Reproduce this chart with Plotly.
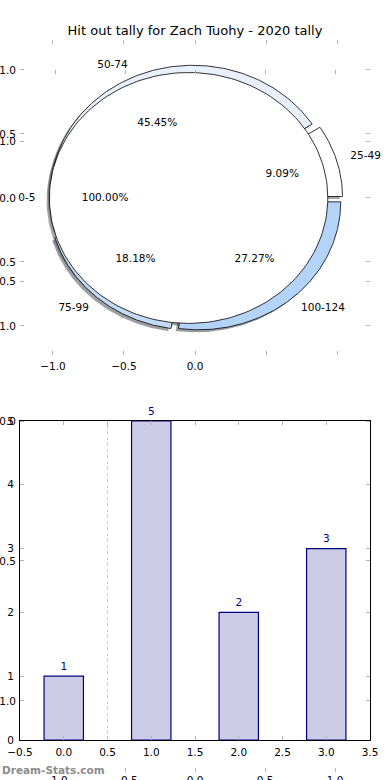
import numpy as np
import plotly.graph_objects as go

# ---------------- data ----------------
title_text = "Hit out tally for Zach Tuohy - 2020 tally"
ranges = ["25-49", "50-74", "75-99", "100-124"]
counts = [1, 5, 2, 3]
inner_labels = ["0-5"]
inner_counts = [11]
slice_colors = ["#ffffff", "#e8f0fb", "#c4dbf5", "#b4d3f8"]
inner_colors = ["#ffffff"]
bar_x = [0, 1, 2, 3]
bar_vals = [1, 5, 2, 3]
pie_ticks = [-1.0, -0.5, 0.0, 0.5, 1.0]
pie_xticktext = ["−1.0", "−0.5", "0.0", "", ""]
pie_yticktext = ["−1.0", "−0.5", "0.0", "0.5", "1.0"]
bar_xticks = [-0.5, 0.0, 0.5, 1.0, 1.5, 2.0, 2.5, 3.0, 3.5]
bar_xticktext = ["−0.5", "0.0", "0.5", "1.0", "1.5", "2.0", "2.5", "3.0", "3.5"]
bar_yticks = [0, 1, 2, 3, 4, 5]
bar_yticktext = ["0", "1", "2", "3", "4", "5"]
stray_ticks = [-1.0, -0.5, 0.0, 0.5, 1.0]
stray_ticktext = ["−1.0", "−0.5", "0.0", "0.5", "1.0"]

# ---------------- style ----------------
R_OUT, EXPL_OUT = 1.0, 0.04
R_IN, EXPL_IN = 0.98, 0.045
SH = -0.02
FONT = "DejaVu Sans"
FS = 10.5
W, H = 390, 780


def wedge(cx, cy, r, t1, t2, full):
    t = np.radians(np.linspace(t1, t2, 181))
    xs = cx + r * np.cos(t)
    ys = cy + r * np.sin(t)
    if not full:
        xs = np.concatenate([[cx], xs, [cx]])
        ys = np.concatenate([[cy], ys, [cy]])
    return xs, ys


def pie_geom(values, radius, expl):
    tot = float(sum(values))
    fr = np.array(values) / tot
    ends = np.cumsum(fr) * 360.0
    starts = ends - fr * 360.0
    out = []
    for f, a, b in zip(fr, starts, ends):
        mid = np.radians((a + b) / 2)
        cx, cy = expl * np.cos(mid), expl * np.sin(mid)
        out.append(dict(f=f, a=a, b=b, mid=mid, cx=cx, cy=cy, r=radius,
                        full=abs(f - 1) < 1e-9))
    return out


outer = pie_geom(counts, R_OUT, EXPL_OUT)
inner = pie_geom(inner_counts, R_IN, EXPL_IN)

fig = go.Figure()


def shadow_color(hexc):
    h = hexc.lstrip("#")
    r, g, b = (int(h[i:i + 2], 16) for i in (0, 2, 4))
    return f"rgba({int(r*0.3)},{int(g*0.3)},{int(b*0.3)},0.5)"


# shadows first
for g, col in list(zip(outer, slice_colors)) + list(zip(inner, inner_colors)):
    xs, ys = wedge(g["cx"] + SH, g["cy"] + SH, g["r"], g["a"], g["b"], g["full"])
    fig.add_trace(go.Scatter(x=xs, y=ys, mode="lines", fill="toself",
                             fillcolor=shadow_color(col), line=dict(width=0),
                             hoverinfo="skip", xaxis="x", yaxis="y"))
# wedges
for g, col in list(zip(outer, slice_colors)) + list(zip(inner, inner_colors)):
    xs, ys = wedge(g["cx"], g["cy"], g["r"], g["a"], g["b"], g["full"])
    fig.add_trace(go.Scatter(x=xs, y=ys, mode="lines", fill="toself",
                             fillcolor=col, line=dict(color="black", width=0.8),
                             hoverinfo="skip", xaxis="x", yaxis="y"))

# labels
lx, ly, lt, lp = [], [], [], []
for g, name in list(zip(outer, ranges)) + list(zip(inner, inner_labels)):
    d = 1.1 * g["r"]
    x = g["cx"] + d * np.cos(g["mid"])
    y = g["cy"] + d * np.sin(g["mid"])
    lx.append(x); ly.append(y); lt.append(name)
    lp.append("middle right" if x > 0 else "middle left")
fig.add_trace(go.Scatter(x=lx, y=ly, text=lt, mode="text", textposition=lp,
                         textfont=dict(family=FONT, size=FS, color="black"),
                         cliponaxis=False, hoverinfo="skip", xaxis="x", yaxis="y"))
qx, qy, qt = [], [], []
for g in outer + inner:
    d = 0.6 * g["r"]
    qx.append(g["cx"] + d * np.cos(g["mid"]))
    qy.append(g["cy"] + d * np.sin(g["mid"]))
    qt.append(f"{g['f']*100:.2f}%")
fig.add_trace(go.Scatter(x=qx, y=qy, text=qt, mode="text", textposition="middle center",
                         textfont=dict(family=FONT, size=FS, color="black"),
                         cliponaxis=False, hoverinfo="skip", xaxis="x", yaxis="y"))

# bar chart
fig.add_trace(go.Bar(x=bar_x, y=bar_vals, width=0.45,
                     marker=dict(color="#cccce6", line=dict(color="#000080", width=1.2)),
                     hoverinfo="skip", xaxis="x2", yaxis="y2"))
fig.add_trace(go.Scatter(x=bar_x, y=bar_vals, text=[str(v) for v in bar_vals],
                         mode="markers+text", textposition="top center",
                         marker=dict(size=4, opacity=0),
                         textfont=dict(family=FONT, size=FS, color="#000080"),
                         cliponaxis=False, hoverinfo="skip", xaxis="x2", yaxis="y2"))
fig.add_vline(x=0.5, line=dict(color="#cccccc", width=1, dash="dot"), xref="x2", yref="y2")

# stray axes (empty)
fig.add_trace(go.Scatter(x=[], y=[], mode="markers", xaxis="x3", yaxis="y3", hoverinfo="skip"))

tick_style = dict(ticks="inside", ticklen=4, tickwidth=1, tickcolor="#b4b4b4",
                  showgrid=False, zeroline=False, mirror="ticks", automargin=False,
                  tickfont=dict(family=FONT, size=FS, color="black"))
xdom = [20 / W, 370 / W]

fig.update_layout(
    width=W, height=780, autosize=False,
    margin=dict(l=0, r=0, t=0, b=0, pad=0),
    paper_bgcolor="white", plot_bgcolor="rgba(0,0,0,0)",
    showlegend=False,
    font=dict(family=FONT, size=FS, color="black"),
    title=dict(text=title_text, x=0.5, xanchor="center", xref="paper",
               y=1 - 30 / H, yanchor="middle", yref="paper", automargin=False,
               font=dict(family=FONT, size=13, color="black")),
    xaxis=dict(domain=xdom, range=[-1.232, 1.232], anchor="y", tickvals=pie_ticks,
               ticktext=pie_xticktext, showline=False, ticklabelstandoff=3, **tick_style),
    yaxis=dict(domain=[1 - 355 / H, 1 - 40 / H], range=[-1.227, 1.234], anchor="x",
               tickvals=pie_ticks, ticktext=pie_yticktext, showline=False,
               ticklabelstandoff=3, **tick_style),
    xaxis2=dict(domain=xdom, range=[-0.5, 3.5], anchor="y2", tickvals=bar_xticks,
                ticktext=bar_xticktext, showline=True, linecolor="black", linewidth=1,
                ticklabelstandoff=2, **tick_style),
    yaxis2=dict(domain=[1 - 740 / H, 1 - 421 / H], range=[0, 5], anchor="x2",
                tickvals=bar_yticks, ticktext=bar_yticktext, showline=True,
                linecolor="black", linewidth=1, ticklabelstandoff=3, **tick_style),
    xaxis3=dict(domain=xdom, range=[-1.25, 1.25], anchor="y3", tickvals=stray_ticks,
                ticktext=stray_ticktext, showline=False, ticklabelstandoff=0, **tick_style),
    yaxis3=dict(domain=[1 - 772 / H, 1 - 70 / H], range=[-1.254, 1.254], anchor="x3",
                tickvals=stray_ticks, ticktext=stray_ticktext, showline=False,
                ticklabelstandoff=3, **tick_style),
    annotations=[dict(text="Dream-Stats.com", x=0, y=1 - 770 / H, xref="paper", yref="paper",
                      xanchor="left", yanchor="middle", showarrow=False,
                      font=dict(family=FONT, size=10.5, color="#8c8c8c", weight="bold"))],
)

fig.write_html("out.html", config={"displayModeBar": False},
               post_script="document.body.style.margin='0px';document.body.style.overflow='hidden';")
